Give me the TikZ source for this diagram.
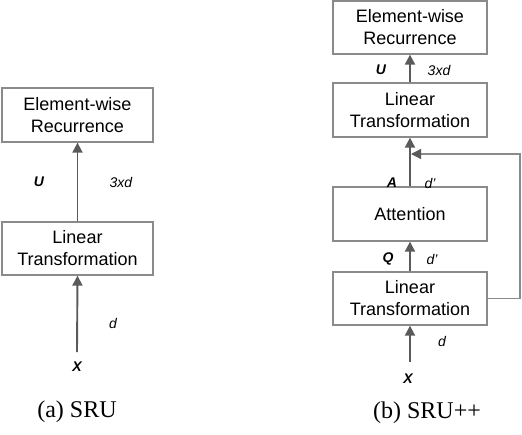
\documentclass[tikz,border=0pt]{standalone}
\usepackage{fontspec}
\setmainfont{Liberation Sans}
\newfontfamily\capfont{Liberation Serif}
\usetikzlibrary{arrows.meta}
\definecolor{boxgray}{HTML}{8A8A8A}
\definecolor{arrgray}{HTML}{5A5A5A}
\tikzset{
  blk/.style={draw=boxgray, line width=1.3pt, fill=white, align=center,
    font=\fontsize{18}{22}\selectfont, inner sep=0pt},
  arr/.style={draw=arrgray, line width=1.9pt, -{Triangle[length=10pt,width=10pt]}},
  fbline/.style={draw=boxgray, line width=1.3pt, -{Triangle[length=10pt,width=10pt,color=arrgray]}},
  lbl/.style={font=\fontsize{14}{16}\selectfont\itshape, inner sep=0pt},
  blbl/.style={font=\fontsize{14}{16}\selectfont\bfseries\itshape, inner sep=0pt},
  captxt/.style={font=\capfont\fontsize{24}{28}\selectfont, inner sep=0pt}
}
\begin{document}
\begin{tikzpicture}[x=1pt,y=-1pt]
\useasboundingbox (0,0) rectangle (522,434);
% left (SRU)
\node[blk, minimum width=151pt, minimum height=54pt] (er1) at (77.5,115) {Element-wise\\Recurrence};
\node[blk, minimum width=151pt, minimum height=53pt] (lt1) at (77.5,248.5) {Linear\\Transformation};
\coordinate (xin1) at (77,352);
\node[blbl] (x1) at (77,367) {X};
\node[blbl] (u1) at (39,182) {U};
\node[lbl] (d31) at (121,182) {3xd};
\node[lbl] (dd1) at (113,323) {d};
\draw[arr] (lt1.north) -- (er1.south);
\draw[arr] (xin1) -- (lt1.south);
\node[captxt] (capa) at (77,412) {(a) SRU};
% right (SRU++)
\node[blk, minimum width=154pt, minimum height=53pt] (er2) at (410,27.5) {Element-wise\\Recurrence};
\node[blk, minimum width=154pt, minimum height=54pt] (lt2) at (410,110) {Linear\\Transformation};
\node[blk, minimum width=154pt, minimum height=54pt] (att) at (410,214) {Attention};
\node[blk, minimum width=154pt, minimum height=53pt] (lt3) at (410,298.5) {Linear\\Transformation};
\coordinate (xin2) at (410,362);
\coordinate (fbc) at (520,154);
\coordinate (fbend) at (411,154);
\node[blbl] (x2) at (408,379) {X};
\node[blbl] (u2) at (381,70) {U};
\node[lbl] (d32) at (439,70) {3xd};
\node[blbl] (a2) at (392,183) {A};
\node[lbl] (dp1) at (430,183) {d'};
\node[blbl] (q2) at (388,259) {Q};
\node[lbl] (dp2) at (432,259) {d'};
\node[lbl] (dd2) at (442,341) {d};
\draw[arr] (lt2.north) -- (er2.south);
\draw[arr] (att.north) -- (lt2.south);
\draw[arr] (lt3.north) -- (att.south);
\draw[arr] (xin2) -- (lt3.south);
\draw[fbline] (lt3.east) -| (fbc) -- (fbend);
\node[captxt] (capb) at (427,413) {(b) SRU++};
\end{tikzpicture}
\end{document}
